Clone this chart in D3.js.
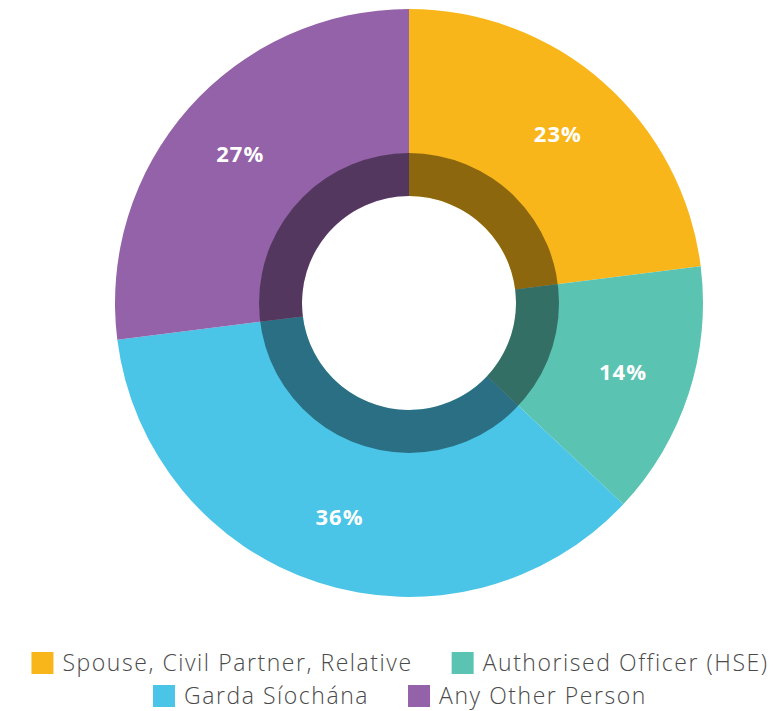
<!DOCTYPE html>
<html>
<head>
<meta charset="utf-8">
<script src="https://cdn.jsdelivr.net/npm/d3@7"></script>
<style>
  html, body { margin: 0; padding: 0; background: #fff; }
  svg { display: block; }
</style>
</head>
<body>
<svg id="chart" width="782" height="711"></svg>
<script>
// slices, clockwise from 12 o'clock
var categories = ["Spouse, Civil Partner, Relative", "Authorised Officer (HSE)", "Garda Síochána", "Any Other Person"];
var values = [23, 14, 36, 27];
var colours = ["#F8B61A", "#5BC3B1", "#4AC4E7", "#9462A8"];

var width = 782, height = 711;
var cx = 409, cy = 303;
var outerR = 294, ringR = 150, holeR = 107;

var svg = d3.select("#chart");

var pie = d3.pie().sort(null).value(function(d){ return d; });
var arcs = pie(values);

var outer = d3.arc().innerRadius(holeR).outerRadius(outerR);
var labelArc = d3.arc().innerRadius(225).outerRadius(225);

var g = svg.append("g").attr("transform", "translate(" + cx + "," + cy + ")");

g.selectAll("path.slice")
  .data(arcs)
  .enter().append("path")
  .attr("class", "slice")
  .attr("d", outer)
  .attr("fill", function(d, i){ return colours[i]; });

// darker inner band
g.append("path")
  .attr("d", d3.arc().innerRadius(holeR).outerRadius(ringR).startAngle(0).endAngle(2 * Math.PI)())
  .attr("fill", "#000")
  .attr("fill-opacity", 0.43);

g.selectAll("text.pct")
  .data(arcs)
  .enter().append("text")
  .attr("class", "pct")
  .attr("transform", function(d){ return "translate(" + labelArc.centroid(d) + ")"; })
  .attr("text-anchor", "middle")
  .attr("dy", "0.36em")
  .style("font-family", "'Open Sans', sans-serif")
  .style("font-weight", "bold")
  .style("font-size", "22px")
  .style("letter-spacing", "1px")
  .attr("fill", "#fff")
  .text(function(d){ return d.value + "%"; });

// legend, two centred rows
var rows = [[0, 1], [2, 3]];
var rowY = [663, 696];
var box = 22, gapText = 9, gapItem = 39;

rows.forEach(function(row, r) {
  var lg = svg.append("g");
  var x = 0;
  row.forEach(function(i) {
    lg.append("rect")
      .attr("x", x).attr("y", rowY[r] - box / 2)
      .attr("width", box).attr("height", box)
      .attr("fill", colours[i]);
    var t = lg.append("text")
      .attr("x", x + box + gapText)
      .attr("y", rowY[r])
      .attr("dy", "0.36em")
      .style("font-family", "'Open Sans', sans-serif")
      .style("font-weight", 300)
      .style("font-size", "23px")
      .style("letter-spacing", "1.55px")
      .attr("fill", "#4a4a4a")
      .text(categories[i]);
    x += box + gapText + t.node().getComputedTextLength() + gapItem;
  });
  x -= gapItem;
  lg.attr("transform", "translate(" + (400 - x / 2) + ",0)");
});
</script>
</body>
</html>
